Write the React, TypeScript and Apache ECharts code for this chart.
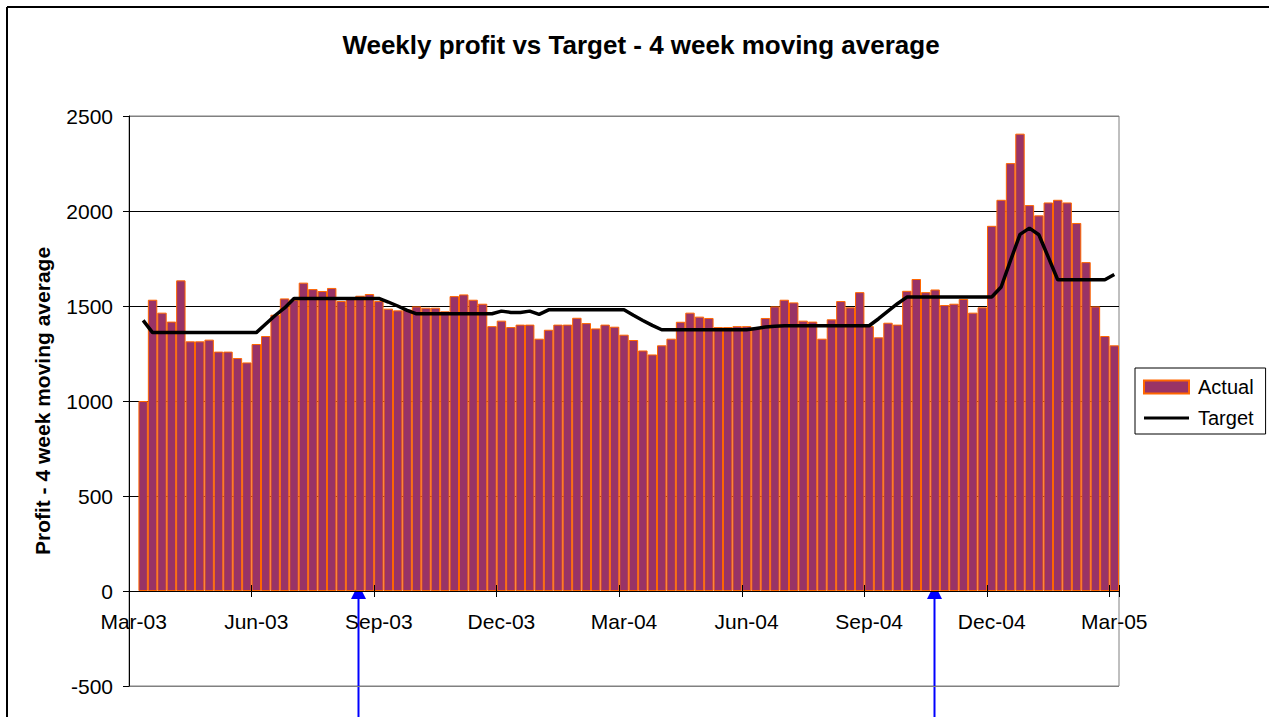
import React, { useEffect, useRef } from "react";
import * as echarts from "echarts";

const START_DATE = Date.UTC(2003, 2, 9);
const MONTHS = ["Jan", "Feb", "Mar", "Apr", "May", "Jun", "Jul", "Aug", "Sep", "Oct", "Nov", "Dec"];
const WEEK_COUNT = 105;
const weeks: string[] = Array.from({ length: WEEK_COUNT }, (_, i) => {
  const d = new Date(START_DATE + i * 7 * 86400000);
  return MONTHS[d.getUTCMonth()] + "-" + String(d.getUTCFullYear() % 100).padStart(2, "0");
});

const actual: (number | null)[] = [null,
  1000, 1533, 1465, 1418, 1635, 1314, 1314, 1323, 1260, 1260,
  1226, 1203, 1300, 1342, 1454, 1540, 1533, 1623, 1589, 1579,
  1595, 1526, 1547, 1554, 1563, 1526, 1486, 1477, 1481, 1498,
  1491, 1491, 1472, 1552, 1561, 1533, 1512, 1394, 1423, 1389,
  1402, 1402, 1328, 1375, 1402, 1402, 1438, 1410, 1382, 1402,
  1391, 1349, 1321, 1266, 1245, 1293, 1328, 1417, 1465, 1444,
  1437, 1389, 1389, 1394, 1394, 1385, 1437, 1498, 1533, 1519,
  1423, 1418, 1328, 1430, 1526, 1493, 1573, 1394, 1335, 1412,
  1402, 1580, 1642, 1573, 1587, 1505, 1512, 1537, 1465, 1493,
  1922, 2059, 2252, 2407, 2031, 1977, 2045, 2059, 2045, 1937,
  1731, 1498, 1342, 1293];

const target: (number | null)[] = [null,
  1424, 1360, 1360, 1360, 1360, 1360, 1360, 1360, 1360, 1360,
  1360, 1360, 1360, 1405, 1450, 1490, 1540, 1540, 1540, 1540,
  1540, 1540, 1540, 1540, 1540, 1540, 1521, 1500, 1477, 1459,
  1459, 1459, 1459, 1459, 1459, 1459, 1459, 1459, 1473, 1466,
  1466, 1473, 1456, 1480, 1480, 1480, 1480, 1480, 1480, 1480,
  1480, 1480, 1451, 1424, 1398, 1375, 1375, 1375, 1375, 1375,
  1375, 1375, 1375, 1375, 1375, 1382, 1389, 1393, 1396, 1396,
  1396, 1396, 1396, 1396, 1396, 1396, 1396, 1396, 1433, 1473,
  1512, 1547, 1547, 1547, 1547, 1547, 1547, 1547, 1547, 1547,
  1547, 1600, 1740, 1877, 1910, 1875, 1757, 1638, 1638, 1638,
  1638, 1638, 1638, 1666];

const Y_MIN = -500;
const Y_MAX = 2500;
const Y_INTERVAL = 500;
const LABEL_EVERY = 13;

const FONT = 'Arial, "Liberation Sans", sans-serif';

const GRID_TOP = 116;
const GRID_HEIGHT = 570;
// distance from the bottom / top edge of the plot to the value 0
const ZERO_FROM_BOTTOM = ((0 - Y_MIN) / (Y_MAX - Y_MIN)) * GRID_HEIGHT;
const ZERO_FROM_TOP = GRID_HEIGHT - ZERO_FROM_BOTTOM;

function arrow(x: number) {
  return {
    type: "group",
    x,
    y: 0,
    z: 100,
    children: [
      { type: "line", shape: { x1: 0, y1: 717, x2: 0, y2: 597 }, style: { stroke: "#0000FF", lineWidth: 2 } },
      { type: "polygon", shape: { points: [[-7.5, 599], [7.5, 599], [0, 584]] }, style: { fill: "#0000FF" } },
    ],
  };
}

export default function App() {
  const ref = useRef<HTMLDivElement>(null);
  useEffect(() => {
    if (!ref.current) return;
    const chart = echarts.init(ref.current, undefined, { renderer: "svg" });
    chart.setOption({
      animation: false,
      backgroundColor: "#ffffff",
      title: {
        text: "Weekly profit vs Target - 4 week moving average",
        left: 641,
        top: 32,
        padding: 0,
        textAlign: "center",
        textStyle: { fontFamily: FONT, fontSize: 26, fontWeight: "bold", color: "#000" },
      },
      legend: {
        orient: "vertical",
        left: 1135,
        top: 368,
        padding: [9, 12, 6, 8],
        itemGap: 11,
        itemWidth: 45,
        itemHeight: 13,
        borderColor: "#000",
        borderWidth: 1,
        borderRadius: 0,
        textStyle: { fontFamily: FONT, fontSize: 20, color: "#000", padding: [0, 0, 0, 4] },
        data: [
          { name: "Actual", icon: "rect" },
          { name: "Target", icon: "path://M0,0h45v3h-45z", itemStyle: { color: "#000" } },
        ],
      },
      grid: { left: 129, top: GRID_TOP, width: 990, height: GRID_HEIGHT, show: true, borderColor: "#808080", borderWidth: 1, backgroundColor: "transparent" },
      xAxis: [
        {
          type: "category",
          data: weeks,
          boundaryGap: true,
          position: "bottom",
          offset: -ZERO_FROM_BOTTOM,
          axisLine: { onZero: false, lineStyle: { color: "#000", width: 1 } },
          axisTick: { show: true, interval: LABEL_EVERY - 1, length: 6, lineStyle: { color: "#000" } },
          axisLabel: { interval: LABEL_EVERY - 1, fontFamily: FONT, fontSize: 21, color: "#000", margin: 20 },
          splitLine: { show: false },
          z: 10,
        },
        {
          type: "category",
          data: weeks,
          boundaryGap: true,
          position: "top",
          offset: -ZERO_FROM_TOP,
          axisLine: { show: false, onZero: false },
          axisTick: { show: true, interval: LABEL_EVERY - 1, length: 6, lineStyle: { color: "#000" } },
          axisLabel: { show: false },
          splitLine: { show: false },
          z: 10,
        },
      ],
      yAxis: {
        type: "value",
        min: Y_MIN,
        max: Y_MAX,
        interval: Y_INTERVAL,
        axisLine: { show: true, onZero: false, lineStyle: { color: "#000" } },
        axisTick: { show: true, length: 6, lineStyle: { color: "#000" } },
        axisLabel: { fontFamily: FONT, fontSize: 21, color: "#000", margin: 16, formatter: (v: number) => String(v) },
        splitLine: { show: true, lineStyle: { color: ["#808080", "#000", "#000", "#000", "#000", "#000", "#808080"], width: 1 } },
      },
      series: [
        {
          name: "Actual",
          type: "bar",
          data: actual,
          barWidth: "100%",
          barGap: "0%",
          itemStyle: { color: "#993366", borderColor: "#FF6600", borderWidth: 1 },
          z: 2,
        },
        {
          name: "Target",
          type: "line",
          data: target,
          symbol: "none",
          showSymbol: false,
          connectNulls: false,
          lineStyle: { color: "#000", width: 3.5 },
          itemStyle: { color: "#000" },
          z: 5,
        },
      ],
      graphic: [
        { type: "line", shape: { x1: 7, y1: 7, x2: 7, y2: 717 }, style: { stroke: "#000", lineWidth: 2 }, z: 100 },
        { type: "line", shape: { x1: 7, y1: 7, x2: 1269, y2: 7 }, style: { stroke: "#000", lineWidth: 2 }, z: 100 },
        arrow(358.5),
        arrow(934.5),
        {
          type: "text",
          x: 42,
          y: 401,
          rotation: Math.PI / 2,
          z: 100,
          style: {
            text: "Profit - 4 week moving average",
            fontFamily: FONT,
            fontSize: 21,
            fontWeight: "bold",
            fill: "#000",
            textAlign: "center",
            textVerticalAlign: "middle",
          },
        },
      ],
    });
    return () => chart.dispose();
  }, []);
  return (
    <div
      ref={ref}
      style={{ position: "fixed", left: 0, top: 0, width: 1269, height: 717, background: "#fff" }}
    />
  );
}
